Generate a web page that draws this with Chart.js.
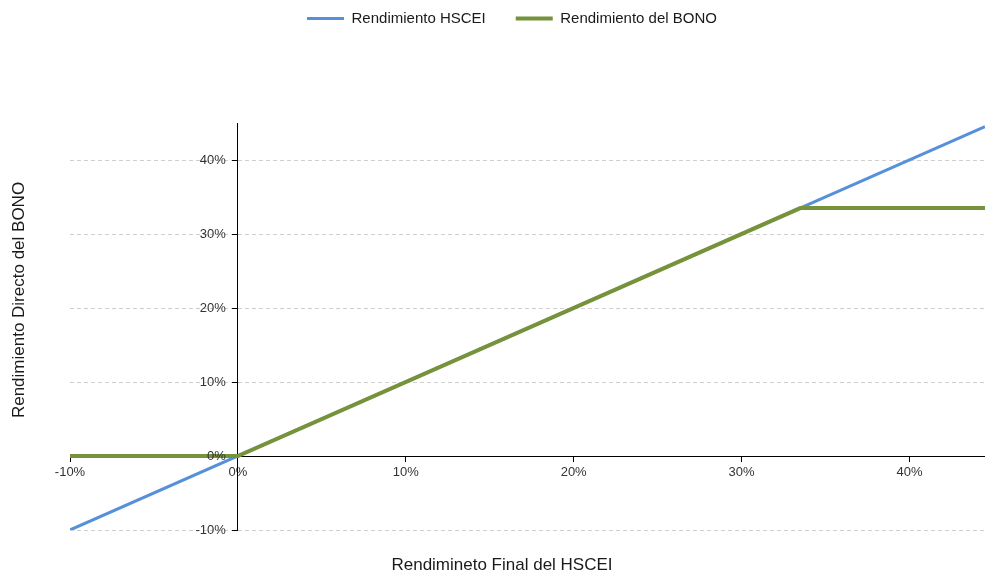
<!DOCTYPE html>
<html>
<head>
<meta charset="utf-8">
<script src="https://cdn.jsdelivr.net/npm/chart.js@4.4.1/dist/chart.umd.min.js"></script>
<style>
  html, body { margin: 0; padding: 0; background: #ffffff; }
  #wrap { width: 985px; height: 572px; position: relative; }
</style>
</head>
<body>
<div id="wrap"><canvas id="c" width="985" height="572"></canvas></div>
<script>
// ---- data (percent values) ----
const seriesNames = ['Rendimiento HSCEI', 'Rendimiento del BONO'];
const hsceiX = [-10, 44.5];
const hsceiY = [-10, 44.5];
const bonoX = [-10, 0, 33.5, 44.5];
const bonoY = [0, 0, 33.5, 33.5];
const xTickValues = [-10, 0, 10, 20, 30, 40];
const yTickValues = [-10, 0, 10, 20, 30, 40];
const xRange = [-10, 44.5];
const yRange = [-10, 45];
const xTitle = 'Rendimineto Final del HSCEI';
const yTitle = 'Rendimiento Directo del BONO';

const FONT = '"Liberation Sans", Arial, Helvetica, sans-serif';
const toPoints = (xs, ys) => xs.map((x, i) => ({ x: x, y: ys[i] }));
const pct = v => v + '%';

const legendTweak = {
  id: 'legendTweak',
  beforeInit(chart) {
    const orig = chart.legend.fit;
    chart.legend.fit = function () { orig.call(this); this.height = 123; };
  },
  afterLayout(chart) {
    const lg = chart.legend;
    lg.left = 39;
    lg.top = 11 - lg.options.labels.padding;
  }
};

// y tick labels sit left of the y axis (drawn at x = 0) after the tick mark
const yLabelGap = {
  id: 'yLabelGap',
  beforeDraw(chart) {
    const s = chart.scales.y;
    const items = s.getLabelItems(chart.chartArea);
    items.forEach(it => {
      if (!it._gapDone) { it.options.translation[0] -= 12; it._gapDone = true; }
    });
  }
};

const axisTitles = {
  id: 'axisTitles',
  afterDraw(chart) {
    const ctx = chart.ctx;
    ctx.save();
    ctx.font = '17px ' + FONT;
    ctx.fillStyle = '#1a1a1a';
    ctx.textAlign = 'center';
    ctx.textBaseline = 'alphabetic';
    ctx.fillText(xTitle, 502, 570);
    ctx.translate(23.5, 300);
    ctx.rotate(-Math.PI / 2);
    ctx.fillText(yTitle, 0, 0);
    ctx.restore();
  }
};

new Chart(document.getElementById('c'), {
  type: 'line',
  data: {
    datasets: [
      {
        label: seriesNames[0],
        data: toPoints(hsceiX, hsceiY),
        borderColor: '#5690DA',
        backgroundColor: '#5690DA',
        borderWidth: 3,
        pointRadius: 0,
        tension: 0,
        fill: false,
        order: 2
      },
      {
        label: seriesNames[1],
        data: toPoints(bonoX, bonoY),
        borderColor: '#76933C',
        backgroundColor: '#76933C',
        borderWidth: 4,
        pointRadius: 0,
        tension: 0,
        fill: false,
        order: 1
      }
    ]
  },
  options: {
    responsive: false,
    animation: false,
    layout: { padding: { left: 70, right: 0, top: 0, bottom: 42 } },
    plugins: {
      tooltip: { enabled: false },
      legend: {
        position: 'top',
        labels: {
          usePointStyle: true,
          pointStyle: 'line',
          pointStyleWidth: 37,
          padding: 30,
          color: '#1a1a1a',
          font: { family: FONT, size: 15 },
          sort: (a, b) => a.datasetIndex - b.datasetIndex
        }
      }
    },
    scales: {
      x: {
        type: 'linear',
        position: { y: 0 },
        min: xRange[0],
        max: xRange[1],
        afterBuildTicks: s => { s.ticks = xTickValues.map(v => ({ value: v })); },
        grid: {
          display: true,
          drawOnChartArea: false,
          drawTicks: true,
          tickLength: 5,
          tickColor: '#000000',
          tickWidth: 1
        },
        border: { display: true, color: '#000000', width: 1 },
        ticks: {
          callback: pct,
          padding: 4,
          maxRotation: 0,
          autoSkip: false,
          color: '#333333',
          font: { family: FONT, size: 13 }
        }
      },
      y: {
        type: 'linear',
        position: { x: 0 },
        min: yRange[0],
        max: yRange[1],
        afterBuildTicks: s => { s.ticks = yTickValues.map(v => ({ value: v })); },
        grid: {
          display: true,
          drawOnChartArea: true,
          drawTicks: true,
          tickLength: 5,
          tickColor: '#000000',
          tickWidth: 1,
          tickBorderDash: [],
          lineWidth: 1,
          color: c => (c.tick && c.tick.value === 0) ? 'rgba(0,0,0,0)' : '#cfcfcf'
        },
        border: { display: true, color: '#000000', width: 1, dash: [4, 3] },
        ticks: {
          callback: pct,
          padding: 7,
          autoSkip: false,
          color: '#333333',
          font: { family: FONT, size: 13 },
          z: 1
        }
      }
    }
  },
  plugins: [legendTweak, yLabelGap, axisTitles]
});
</script>
</body>
</html>
